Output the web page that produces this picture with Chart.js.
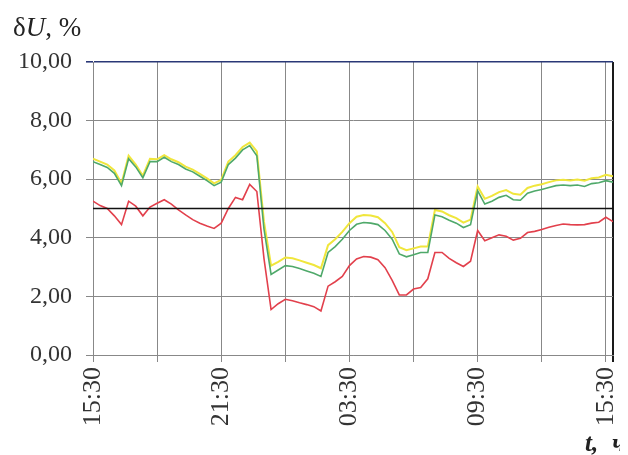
<!DOCTYPE html>
<html>
<head>
<meta charset="utf-8">
<script src="https://cdn.jsdelivr.net/npm/chart.js@4"></script>
<style>
  html, body { margin: 0; padding: 0; background: #fff; }
  #wrap { position: relative; width: 620px; height: 455px; overflow: hidden; }
  canvas { display: block; }
  .lbl { position: absolute; font-family: 'Liberation Serif', 'Times New Roman', serif; color: #222; white-space: nowrap; }
</style>
</head>
<body>
<div id="wrap">
  <canvas id="chart" width="620" height="455"></canvas>
  <div class="lbl" style="left:13px;top:12px;font-size:27px">δ<i>U</i>, %</div>
  <div class="lbl" style="left:585px;top:429px;font-size:25px;font-weight:bold;font-style:italic">t,<span style="margin-left:14px">ч</span></div>
</div>
<script>
// Voltage deviation δU, %, sampled every 20 minutes starting at 15:30
const stepMinutes = 20;
const spanMinutes = 1460;
const gridStepMinutes = 180;

const xTickLabels = ['15:30', '21:30', '03:30', '09:30', '15:30'];
const limitLevel = 5;

const yellowSeries = [
  6.7, 6.6, 6.5, 6.3, 5.85, 6.8, 6.5, 6.12, 6.7, 6.68,
  6.82, 6.68, 6.58, 6.43, 6.33, 6.18, 6.03, 5.86, 5.98, 6.6,
  6.82, 7.1, 7.25, 6.95, 4.55, 3.05, 3.18, 3.33, 3.3, 3.23,
  3.15, 3.07, 2.96, 3.75, 3.95, 4.2, 4.5, 4.72, 4.78, 4.76,
  4.7, 4.5, 4.2, 3.68, 3.58, 3.64, 3.7, 3.7, 4.95, 4.9,
  4.77, 4.67, 4.52, 4.62, 5.75, 5.33, 5.43, 5.56, 5.63, 5.5,
  5.47, 5.7, 5.78, 5.83, 5.9, 5.96, 5.98, 5.96, 5.99, 5.95,
  6.03, 6.06, 6.15, 6.1
];

const greenSeries = [
  6.6, 6.5, 6.4, 6.2, 5.78, 6.7, 6.42, 6.05, 6.6, 6.6,
  6.75, 6.6, 6.5, 6.35, 6.25, 6.1, 5.95, 5.78, 5.9, 6.5,
  6.72, 7.0, 7.15, 6.8, 4.3, 2.75, 2.9, 3.05, 3.02, 2.95,
  2.87, 2.79, 2.68, 3.5, 3.7, 3.95, 4.25, 4.46, 4.52, 4.5,
  4.45, 4.25, 3.95, 3.45, 3.35, 3.42, 3.5, 3.5, 4.78, 4.72,
  4.6, 4.5, 4.35, 4.45, 5.6, 5.15, 5.25, 5.38, 5.45, 5.3,
  5.28, 5.52, 5.6, 5.65, 5.72, 5.78, 5.8, 5.78, 5.8, 5.75,
  5.85, 5.88, 5.95, 5.9
];

const redSeries = [
  5.25, 5.1, 5.0, 4.75, 4.45, 5.25, 5.08, 4.75, 5.05, 5.18,
  5.3, 5.15, 4.95, 4.78, 4.62, 4.5, 4.4, 4.32, 4.5, 5.0,
  5.38, 5.3, 5.82, 5.58, 3.3, 1.55, 1.75, 1.9, 1.85, 1.78,
  1.72, 1.65, 1.5, 2.35, 2.5, 2.68, 3.05, 3.28, 3.36, 3.34,
  3.25, 2.98, 2.55, 2.05, 2.05, 2.25, 2.3, 2.6, 3.5, 3.5,
  3.3, 3.15, 3.02, 3.2, 4.25, 3.9, 4.0, 4.1, 4.05, 3.92,
  3.98, 4.18, 4.22, 4.28, 4.36, 4.42, 4.47, 4.45, 4.44, 4.45,
  4.5, 4.53, 4.7, 4.55
];

const toPoints = (vals) => vals.map((v, i) => ({ x: i * stepMinutes, y: v }));

const serif = "'Liberation Serif', 'Times New Roman', serif";
const gridGray = '#888888';

new Chart(document.getElementById('chart'), {
  type: 'line',
  data: {
    datasets: [
      { data: [{ x: 0, y: limitLevel }, { x: spanMinutes, y: limitLevel }], borderColor: '#111', borderWidth: 1.6, order: 0 },
      { data: toPoints(redSeries), borderColor: '#e2404c', borderWidth: 1.6, order: 1 },
      { data: toPoints(greenSeries), borderColor: '#4fa96a', borderWidth: 1.6, order: 2 },
      { data: toPoints(yellowSeries), borderColor: '#f0e63c', borderWidth: 2, order: 3 }
    ]
  },
  options: {
    responsive: false,
    animation: false,
    devicePixelRatio: 1,
    layout: { padding: { top: 62, right: 7, left: 0, bottom: 0 } },
    elements: { point: { radius: 0 }, line: { tension: 0 } },
    plugins: { legend: { display: false }, tooltip: { enabled: false } },
    scales: {
      x: {
        type: 'linear',
        min: 0,
        max: spanMinutes,
        afterBuildTicks: (s) => {
          const t = [];
          for (let v = 0; v <= 1440; v += gridStepMinutes) t.push({ value: v });
          t.push({ value: spanMinutes });
          s.ticks = t;
        },
        ticks: {
          autoSkip: false,
          maxRotation: 90,
          minRotation: 90,
          padding: 5,
          color: '#333',
          font: { family: serif, size: 26 },
          callback: (v) => (v % 360 === 0 && v <= 1440) ? xTickLabels[v / 360] : ''
        },
        grid: {
          color: (ctx) => ctx.tick && ctx.tick.value === spanMinutes ? '#1a1a1a' : gridGray,
          lineWidth: (ctx) => ctx.tick && ctx.tick.value === spanMinutes ? 2 : 1,
          tickLength: 7
        },
        border: { color: gridGray, width: 1 },
        afterFit: (s) => { s.height = 100; s.paddingLeft = 0; s.paddingRight = 0; }
      },
      y: {
        min: 0,
        max: 10,
        ticks: {
          stepSize: 2,
          padding: 14,
          color: '#333',
          font: { family: serif, size: 24 },
          callback: (v) => v.toFixed(2).replace('.', ',')
        },
        grid: {
          color: (ctx) => ctx.tick && ctx.tick.value === 10 ? '#2a3877' : gridGray,
          lineWidth: (ctx) => ctx.tick && ctx.tick.value === 10 ? 1.6 : 1,
          tickLength: 7
        },
        border: { color: gridGray, width: 1 },
        afterFit: (s) => { s.width = 93; s.paddingTop = 0; s.paddingBottom = 0; }
      }
    }
  }
});
</script>
</body>
</html>
